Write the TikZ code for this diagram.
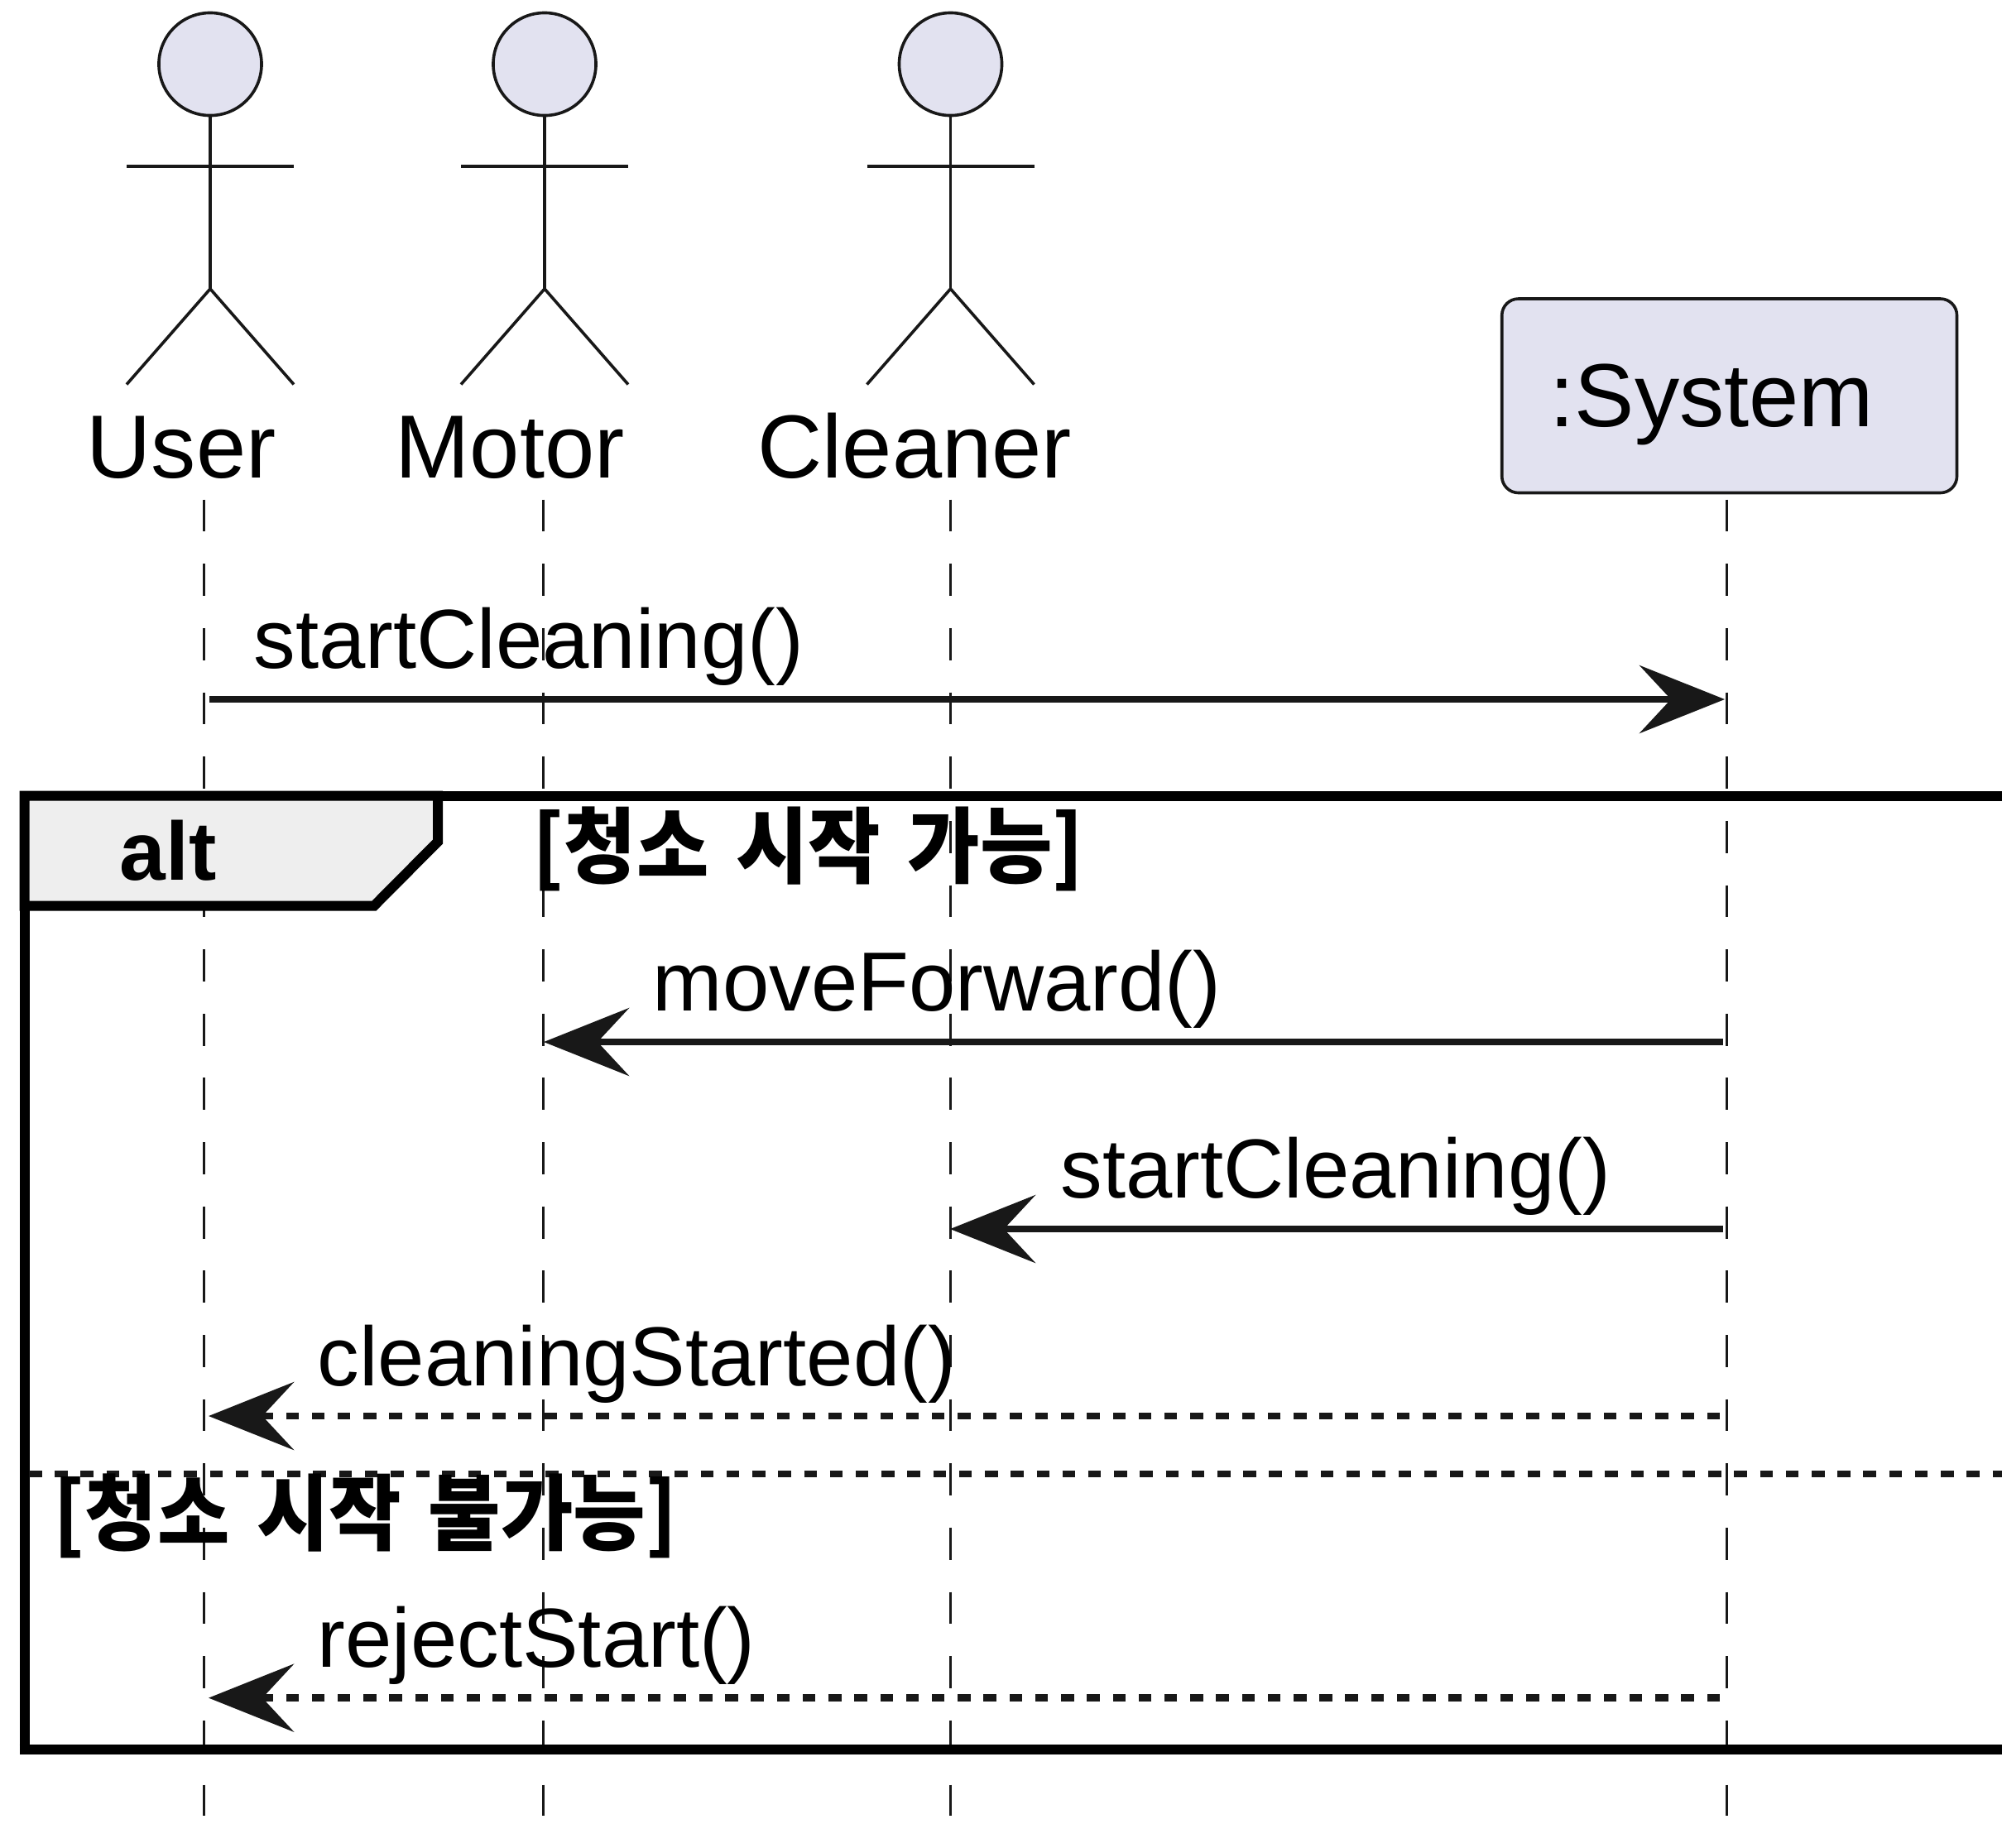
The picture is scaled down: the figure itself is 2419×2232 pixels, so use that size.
\documentclass[tikz,border=0pt]{standalone}
\usepackage{fontspec}
\setmainfont{Liberation Sans}
\newfontfamily\krfont[FakeStretch=0.95,WordSpace=1.5]{Noto Sans CJK KR}
\usetikzlibrary{arrows.meta}
\definecolor{umlline}{HTML}{181818}
\definecolor{umlfill}{HTML}{E2E2F0}
\definecolor{tabfill}{HTML}{EEEEEE}
\begin{document}
\begin{tikzpicture}[line cap=butt,line join=miter,x=0.01cm,y=-0.01cm,
    >={Stealth[length=1.03cm,width=.82cm,inset=.38cm]},
    lifeline/.style={color=umlline,line width=0.03cm,dash pattern=on 0.388cm off 0.388cm},
    actorline/.style={color=umlline,line width=0.036cm},
    msgline/.style={color=umlline,line width=0.08cm},
    msgdash/.style={msgline,line width=0.085cm,dash pattern=on 0.155cm off 0.157cm},
    framerule/.style={color=black,line width=0.12cm},
    actorlabel/.style={anchor=base west,inner sep=0pt,font=\fontsize{30.8}{36}\selectfont},
    msglabel/.style={anchor=base west,inner sep=0pt,font=\fontsize{28.8}{34}\selectfont},
    guardlabel/.style={anchor=base west,inner sep=0pt,font=\krfont\bfseries\fontsize{28.45}{34}\selectfont}]
                \clip (0,0) rectangle (2419,2232);
                \coordinate (userTop) at (246,603.6);
                \coordinate (userEnd) at (246,2194.4);
                \coordinate (motorTop) at (656,603.6);
                \coordinate (motorEnd) at (656,2194.4);
                \coordinate (cleanerTop) at (1148,603.6);
                \coordinate (cleanerEnd) at (1148,2194.4);
                \coordinate (systemTop) at (2086,603.6);
                \coordinate (systemEnd) at (2086,2194.4);
                \draw [lifeline] (userTop)-- (userEnd);
                \draw [lifeline] (motorTop)-- (motorEnd);
                \draw [lifeline] (cleanerTop)-- (cleanerEnd);
                \draw [lifeline] (systemTop)-- (systemEnd);
                \draw [actorline,fill=umlfill] (254,77.5) circle (0.62cm);
                \draw [actorline] (254,139)-- (254,349);
                \draw [actorline] (153,201)-- (355,201);
                \draw [actorline] (153,464.5)-- (254,349)-- (355,464.5);
                \draw [actorline,fill=umlfill] (658,77.5) circle (0.62cm);
                \draw [actorline] (658,139)-- (658,349);
                \draw [actorline] (557,201)-- (759,201);
                \draw [actorline] (557,464.5)-- (658,349)-- (759,464.5);
                \draw [actorline,fill=umlfill] (1148.5,77.5) circle (0.62cm);
                \draw [actorline] (1148.5,139)-- (1148.5,349);
                \draw [actorline] (1047.5,201)-- (1249.5,201);
                \draw [actorline] (1047.5,464.5)-- (1148.5,349)-- (1249.5,464.5);
                \node [actorlabel] (userLabel) at (104,577) {User};
                \node [actorlabel] (motorLabel) at (477,577) {Motor};
                \node [actorlabel] (cleanerLabel) at (915,577) {Cleaner};
                \draw [actorline,fill=umlfill,rounded corners=0.2cm] (1814.7,361) rectangle (2364.5,595.5);
                \node [actorlabel] (systemLabel) at (1872,515) {:System};
                \draw [framerule] (29.7,2114.3)-- (29.7,961.5)-- (2440,961.5);
                \draw [framerule] (23.7,2114.3)-- (2440,2114.3);
                \draw [framerule,fill=tabfill] (29.7,961.5)-- (529,961.5)-- (529,1017)-- (452,1094.5)-- (29.7,1094.5)-- cycle;
                \node [guardlabel,font=\bfseries\fontsize{28.45}{34}\selectfont] (altLabel) at (144,1063) {alt};
                \node [guardlabel] (guardYes) at (643,1059) {[청소 시작 가능]};
                \draw [msgline,dash pattern=on 0.155cm off 0.157cm] (35,1780.6)-- (2430,1780.6);
                \node [guardlabel] (guardNo) at (64,1865) {[청소 시작 불가능]};
                \coordinate (startUser) at (253,845);
                \coordinate (startSystem) at (2084,845);
                \coordinate (moveSystem) at (2082,1259);
                \coordinate (moveMotor) at (657,1259);
                \coordinate (cleanSystem) at (2082,1485);
                \coordinate (cleanCleaner) at (1148,1485);
                \coordinate (doneSystem) at (2078,1711);
                \coordinate (doneUser) at (252,1711);
                \coordinate (rejectSystem) at (2078,2051.6);
                \coordinate (rejectUser) at (252,2051.6);
                \draw [msgline,->] (startUser)-- (startSystem);
                \node [msglabel] (startMsg) at (306,807) {startCleaning()};
                \draw [msgline,->] (moveSystem)-- (moveMotor);
                \node [msglabel] (moveMsg) at (788,1221) {moveForward()};
                \draw [msgline,->] (cleanSystem)-- (cleanCleaner);
                \node [msglabel] (cleanMsg) at (1281,1447) {startCleaning()};
                \draw [msgdash,->] (doneSystem)-- (doneUser);
                \node [msglabel] (doneMsg) at (383,1674) {cleaningStarted()};
                \draw [msgdash,->] (rejectSystem)-- (rejectUser);
                \node [msglabel] (rejectMsg) at (383,2014) {rejectStart()};
                \end{tikzpicture}
\end{document}
